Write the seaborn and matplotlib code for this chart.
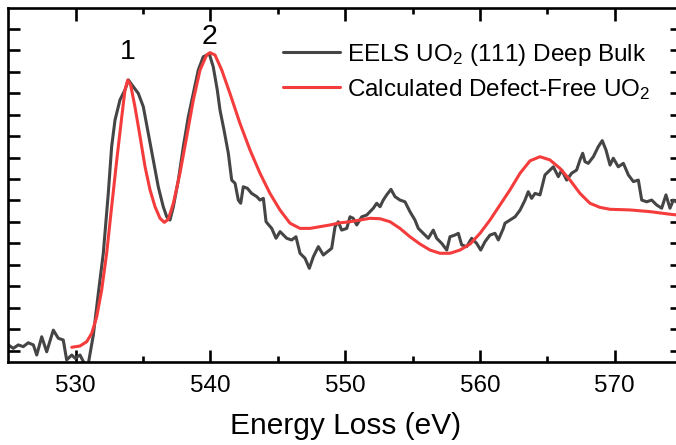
import numpy as np
import pandas as pd
import matplotlib
matplotlib.use('Agg')
import matplotlib.pyplot as plt
import seaborn as sns

# EELS O K-edge, deep bulk
eels_energy = [
    525.00, 525.37, 525.74, 526.11, 526.48, 526.86, 527.11, 527.48, 527.85, 528.34,
    528.71, 529.08, 529.33, 529.71, 529.95, 530.32, 530.69, 530.94, 531.31, 531.68,
    532.05, 532.42, 532.67, 532.92, 533.29, 533.66, 533.91, 534.28, 534.65, 535.02,
    535.39, 535.76, 536.13, 536.50, 536.76, 537.00, 537.25, 537.62, 537.99, 538.36,
    538.73, 539.10, 539.47, 539.92, 540.21, 540.51, 540.71, 541.01, 541.33, 541.58,
    541.83, 542.07, 542.25, 542.44, 542.74, 543.06, 543.44, 543.68, 543.93, 544.13,
    544.55, 544.87, 545.17, 545.66, 546.03, 546.35, 546.65, 547.02, 547.34, 547.64,
    548.01, 548.38, 549.00, 549.25, 549.49, 549.74, 550.12, 550.36, 550.60, 550.86,
    551.23, 551.60, 551.84, 552.09, 552.34, 552.59, 552.83, 553.08, 553.40, 553.70,
    554.07, 554.44, 554.81, 555.18, 555.43, 555.80, 556.17, 556.54, 556.79, 557.17,
    557.54, 557.78, 558.15, 558.40, 558.65, 559.02, 559.39, 559.76, 560.06, 560.38,
    560.75, 561.12, 561.37, 561.74, 561.86, 562.23, 562.61, 562.98, 563.35, 563.59,
    563.84, 564.09, 564.46, 564.83, 565.20, 565.45, 565.82, 566.07, 566.44, 566.81,
    567.18, 567.43, 567.63, 567.80, 568.04, 568.42, 568.79, 569.08, 569.36, 569.66,
    569.90, 570.27, 570.65, 571.02, 571.39, 571.76, 572.01, 572.38, 572.75, 573.12,
    573.49, 573.81, 574.11, 574.36, 574.56, 575.00,
]
eels_intensity = [
    0.27, 0.11, 0.27, 0.19, 0.37, 0.27, -0.20, 0.65, -0.05, 0.96,
    0.58, 0.50, -0.43, -0.20, -0.35, -0.20, -0.65, -0.60, 0.73, 2.67,
    4.54, 7.33, 9.51, 10.75, 11.69, 12.15, 12.62, 12.30, 11.99, 11.37,
    10.13, 8.89, 7.64, 6.71, 6.24, 6.09, 6.71, 7.95, 9.51, 10.90,
    11.99, 13.08, 13.70, 13.83, 13.23, 12.15, 11.22, 10.28, 9.20, 7.95,
    7.80, 7.02, 6.87, 7.64, 7.57, 7.33, 7.18, 7.02, 7.10, 6.01,
    5.70, 5.24, 5.55, 5.24, 5.16, 5.31, 4.54, 4.31, 3.84, 4.38,
    4.85, 4.46, 4.77, 5.78, 6.01, 5.62, 5.70, 6.24, 6.17, 5.86,
    6.24, 6.32, 6.48, 6.64, 6.87, 6.71, 7.02, 7.26, 7.52, 7.18,
    7.02, 6.94, 6.48, 6.09, 5.70, 5.47, 5.24, 5.62, 5.24, 5.00,
    4.69, 5.31, 5.39, 5.47, 4.93, 4.85, 5.24, 5.00, 4.69, 5.08,
    5.39, 5.47, 5.16, 5.70, 5.94, 6.09, 6.24, 6.55, 7.02, 7.41,
    7.10, 7.33, 7.26, 8.19, 8.42, 8.57, 8.11, 8.42, 7.95, 8.27,
    8.42, 8.89, 9.20, 8.81, 8.73, 9.04, 9.51, 9.79, 9.35, 8.65,
    8.97, 8.57, 8.73, 8.19, 7.88, 7.95, 7.02, 6.94, 7.02, 6.79,
    6.64, 7.26, 6.64, 7.02, 6.94, 6.80,
]

# calculated spectrum for defect-free UO2
calc_energy = [
    529.71, 530.32, 530.82, 531.19, 531.56, 531.93, 532.30, 532.67, 533.05, 533.42,
    533.66, 533.86, 534.08, 534.40, 534.78, 535.15, 535.52, 535.89, 536.26, 536.58,
    536.87, 537.25, 537.74, 538.24, 538.73, 539.23, 539.72, 539.97, 540.34, 540.84,
    541.45, 542.19, 542.94, 543.68, 544.42, 545.17, 545.91, 546.65, 547.39, 548.13,
    548.88, 549.62, 550.36, 551.84, 552.59, 553.33, 554.07, 554.81, 555.56, 556.30,
    557.04, 557.78, 558.52, 559.27, 560.01, 560.75, 561.49, 562.23, 562.98, 563.72,
    564.46, 565.20, 565.94, 566.69, 567.43, 568.17, 568.91, 569.66, 571.14, 572.63,
    574.11, 575.00,
]
calc_intensity = [
    0.16, 0.22, 0.42, 0.81, 1.58, 2.83, 4.54, 6.71, 8.89, 10.90,
    12.15, 12.61, 12.38, 11.37, 9.97, 8.57, 7.49, 6.71, 6.17, 5.98,
    6.12, 6.87, 8.27, 9.97, 11.68, 13.08, 13.78, 13.89, 13.78, 13.08,
    11.99, 10.60, 9.35, 8.27, 7.33, 6.55, 5.94, 5.70, 5.70, 5.78,
    5.86, 5.96, 6.01, 6.17, 6.15, 6.01, 5.70, 5.31, 4.97, 4.69,
    4.54, 4.54, 4.69, 4.97, 5.47, 6.09, 6.79, 7.49, 8.27, 8.85,
    9.04, 8.89, 8.50, 7.95, 7.33, 6.87, 6.68, 6.59, 6.56, 6.48,
    6.36, 6.30,
]

peak_labels = ['1', '2']
peak_energy = [533.88, 539.90]
peak_height = [13.92, 14.62]

sns.set_style('ticks')
plt.rcParams['font.family'] = ['Liberation Sans', 'DejaVu Sans']
plt.rcParams['mathtext.fontset'] = 'custom'
plt.rcParams['mathtext.rm'] = 'Liberation Sans'
plt.rcParams['mathtext.it'] = 'Liberation Sans'
plt.rcParams['mathtext.default'] = 'regular'
for k in ['text.color', 'axes.labelcolor', 'xtick.color', 'ytick.color', 'axes.edgecolor']:
    plt.rcParams[k] = 'black'

fig = plt.figure(figsize=(6.76, 4.45), dpi=100)
ax = fig.add_axes([8.3 / 676, 1 - 362.3 / 445, 673.7 / 676, 354.3 / 445])

eels = pd.DataFrame({'energy': eels_energy, 'intensity': eels_intensity})
calc = pd.DataFrame({'energy': calc_energy, 'intensity': calc_intensity})
sns.lineplot(data=eels, x='energy', y='intensity', ax=ax, color='#454545', lw=2.2,
             label='EELS UO$_2$ (111) Deep Bulk')
sns.lineplot(data=calc, x='energy', y='intensity', ax=ax, color='#f53c3c', lw=2.2,
             label='Calculated Defect-Free UO$_2$')

for lab, xx, yy in zip(peak_labels, peak_energy, peak_height):
    ax.text(xx, yy, lab, fontsize=20.5, ha='center', va='center')

ax.set_xlim(525, 575)
ax.set_ylim(-0.54, 15.97)
ax.set_xticks([530, 540, 550, 560, 570])
ax.set_xticks([535, 545, 555, 565], minor=True)
ax.set_yticks(range(0, 16))
ax.tick_params(axis='both', which='both', direction='in', width=1.9,
               top=True, right=True)
ax.tick_params(axis='x', which='major', length=9, labelsize=17.5, pad=9)
ax.tick_params(axis='x', which='minor', length=4.5)
ax.tick_params(axis='y', which='major', length=8.5, labelleft=False)
ax.set_xlabel('Energy Loss (eV)', fontsize=21.5, labelpad=11)
ax.set_ylabel('')
for sp in ax.spines.values():
    sp.set_linewidth(1.9)

ax.legend(loc='upper left', bbox_to_anchor=(283 / 676, 1 - 42 / 445),
          bbox_transform=fig.transFigure, frameon=False, fontsize=17.5,
          borderpad=0, borderaxespad=0, handlelength=2.35, handletextpad=0.29,
          labelspacing=0.36)

fig.savefig('out.png', dpi=100)
